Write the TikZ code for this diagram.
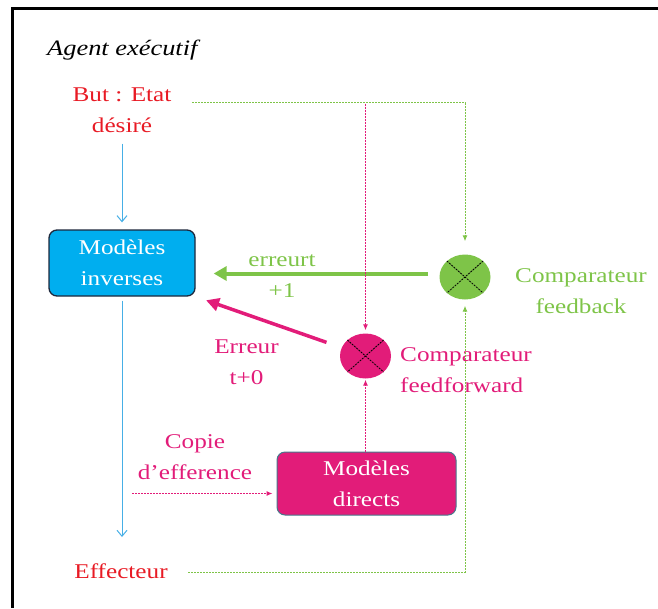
\documentclass[tikz,border=0pt]{standalone}
\usepackage{fontspec}
\setmainfont[FakeStretch=1.2]{Liberation Serif}
\usetikzlibrary{shapes.geometric,arrows.meta}
\definecolor{myred}{RGB}{232,26,36}
\definecolor{mymag}{RGB}{226,28,121}
\definecolor{mygreen}{RGB}{126,196,72}
\definecolor{myblue}{RGB}{0,174,239}
\definecolor{arrblue}{RGB}{70,175,230}
\definecolor{boxline}{RGB}{30,40,60}
\definecolor{magline}{RGB}{70,120,140}
\begin{document}
\begin{tikzpicture}[x=1pt,y=-1pt,
  txt/.style={inner sep=0pt, align=center, font=\fontsize{21}{31}\selectfont},
  modbox/.style={rounded corners=8pt, align=center, text=white, inner sep=0pt,
    font=\fontsize{21}{31}\selectfont},
  circ/.style={ellipse, minimum width=51pt, minimum height=45pt, inner sep=0pt},
  xline/.style={draw=black, line width=0.8pt, dash pattern=on 2pt off 1pt},
  bluearr/.style={draw=arrblue, line width=1pt, -{Straight Barb[length=6pt,width=10pt]}},
  gthick/.style={draw=mygreen, line width=4pt, -{Triangle[length=13pt,width=14pt]}},
  mthick/.style={draw=mymag, line width=3.5pt, -{Triangle[length=13pt,width=13pt]}},
  gdash/.style={draw=mygreen, line width=1pt, dash pattern=on 2pt off 1pt, -{Latex[length=6pt,width=5pt]}},
  mdash/.style={draw=mymag, line width=1pt, dash pattern=on 2pt off 1pt, -{Latex[length=6pt,width=5pt]}}
]
\useasboundingbox (0,0) rectangle (658,608);
\draw[line width=3pt] (658,8) -- (12,8) -- (12,608);

\node[inner sep=0pt, anchor=base west, font=\fontsize{22}{26}\selectfont\itshape] (agent) at (47,55) {Agent exécutif};
\node[txt, text=myred] (but) at (122,110) {But : Etat\\désiré};
\node[modbox, fill=myblue, draw=boxline, line width=1.3pt, minimum width=146pt, minimum height=66pt] (inv) at (122,263) {Modèles\\inverses};
\node[modbox, fill=mymag, draw=magline, line width=1pt, minimum width=179pt, minimum height=63pt] (md) at (366.5,483.5) {Modèles\\directs};
\node[circ, fill=mygreen] (gc) at (465,277) {};
\node[circ, fill=mymag] (mc) at (365.5,356) {};
\draw[xline] (gc.north west) -- (gc.south east) (gc.north east) -- (gc.south west);
\draw[xline] (mc.north west) -- (mc.south east) (mc.north east) -- (mc.south west);
\node[txt, text=mygreen] (cfb) at (581,291) {Comparateur\\feedback};
\node[txt, text=mymag, anchor=west, align=left] (cff) at (400,370.5) {Comparateur\\feedforward};
\node[txt, text=mygreen] (e1) at (282,276) {erreurt\\+1};
\node[txt, text=mymag] (e0) at (246.5,362) {Erreur\\t+0};
\node[txt, text=mymag] (cop) at (195,457) {Copie\\d’efference};
\node[txt, text=myred, anchor=base] (eff) at (121,578) {Effecteur};

\coordinate (g1) at (192,102.5);
\coordinate (g2) at (188,572);
\coordinate (m1) at (365.5,103.5);
\coordinate (c1) at (132,493.5);
\coordinate (ga) at (428,273.5);

\draw[bluearr, shorten <=11pt, shorten >=7pt] (but.south) -- (inv.north);
\draw[bluearr, shorten <=4pt, shorten >=26pt] (inv.south) -- (inv.south |- eff.north);
\draw[gthick, shorten >=18pt] (ga) -- (ga -| inv.east);
\draw[mthick, shorten <=16pt, shorten >=11pt] (mc) -- (inv.south east);
\draw[gdash, shorten >=13pt] (g1) -| (gc.north);
\draw[gdash, shorten >=6pt] (g2) -| (gc.south);
\draw[mdash, shorten >=3pt] (m1) -- (m1 |- mc.north);
\draw[mdash, shorten >=1pt] (mc |- md.north) -- (mc.south);
\draw[mdash, shorten >=4pt] (c1) -- (c1 -| md.west);
\end{tikzpicture}
\end{document}
